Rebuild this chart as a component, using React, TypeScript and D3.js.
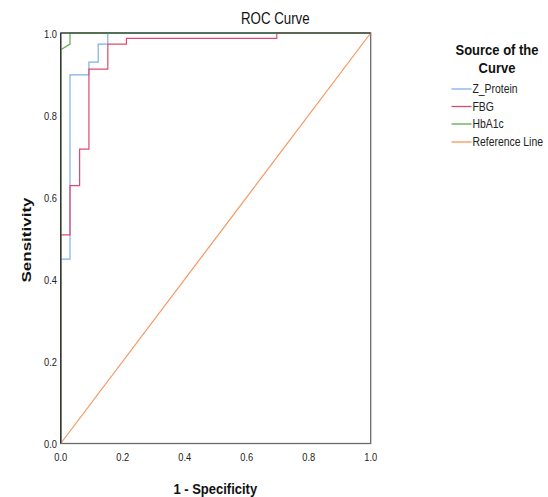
import React from "react";
import * as d3 from "d3";

const W = 548;
const H = 497;

const xTicks = [0, 0.2, 0.4, 0.6, 0.8, 1.0];
const yTicks = [0, 0.2, 0.4, 0.6, 0.8, 1.0];

// ROC curve points [1 - specificity, sensitivity]
const zProteinX = [0, 0, 0.03, 0.03, 0.091, 0.091, 0.121, 0.121, 0.152, 0.152, 1];
const zProteinY = [0, 0.449, 0.449, 0.898, 0.898, 0.929, 0.929, 0.973, 0.973, 1, 1];

const fbgX = [0, 0, 0.03, 0.03, 0.061, 0.061, 0.091, 0.091, 0.152, 0.152, 0.212, 0.212, 0.697, 0.697, 1];
const fbgY = [0, 0.508, 0.508, 0.628, 0.628, 0.717, 0.717, 0.912, 0.912, 0.973, 0.973, 0.987, 0.987, 1, 1];

const hba1cX = [0, 0, 0.03, 0.03, 1];
const hba1cY = [0, 0.959, 0.973, 1, 1];

const refX = [0, 1];
const refY = [0, 1];

const seriesNames = ["Z_Protein", "FBG", "HbA1c", "Reference Line"];
const seriesColors = ["#7FAEEB", "#E2486F", "#5CAA50", "#F7955E"];

const FONT = "'Liberation Sans', Arial, sans-serif";
const SY = 1.18; // vertical stretch of text

export default function App() {
  const x = d3.scaleLinear().domain([0, 1]).range([60.7, 370.7]);
  const y = d3.scaleLinear().domain([0, 1]).range([443.5, 33]);

  const line = d3
    .line<[number, number]>()
    .x((d) => x(d[0]))
    .y((d) => y(d[1]));

  const zip = (xs: number[], ys: number[]) =>
    xs.map((v, i) => [v, ys[i]] as [number, number]);

  const series = [
    zip(zProteinX, zProteinY),
    zip(fbgX, fbgY),
    zip(hba1cX, hba1cY),
    zip(refX, refY),
  ];

  const stretchText = (
    tx: number,
    ty: number,
    content: string,
    props: any,
    sy = SY
  ) => (
    <text
      transform={`translate(${tx},${ty}) scale(1,${sy})`}
      fontFamily={FONT}
      fill="#222"
      {...props}
    >
      {content}
    </text>
  );

  const legendYs = [93, 110.5, 128, 146];

  return (
    <svg
      width={W}
      height={H}
      style={{ position: "absolute", left: 0, top: 0, background: "#fff" }}
    >
      <rect x={0} y={0} width={W} height={H} fill="#fff" />

      {/* frame */}
      <rect
        x={x(0)}
        y={y(1)}
        width={x(1) - x(0)}
        height={y(0) - y(1)}
        fill="none"
        stroke="#6a6a6a"
        strokeWidth={1.3}
      />

      {/* curves: reference first then others */}
      <path d={line(series[3]) || ""} fill="none" stroke={seriesColors[3]} strokeWidth={1.2} />
      <path d={line(series[0]) || ""} fill="none" stroke={seriesColors[0]} strokeWidth={1.2} />
      <path d={line(series[1]) || ""} fill="none" stroke={seriesColors[1]} strokeWidth={1.2} />
      <path d={line(series[2]) || ""} fill="none" stroke={seriesColors[2]} strokeWidth={1.2} />
      <line x1={x(0)} x2={x(0)} y1={y(0)} y2={y(1)} stroke="#333" strokeWidth={1.3} />
      <line x1={x(0)} x2={x(1)} y1={y(1)} y2={y(1)} stroke="#2f3f33" strokeWidth={1.2} />

      {/* y tick labels */}
      {yTicks.map((t) =>
        stretchText(57, y(t) + 4.6, d3.format(".1f")(t), {
          key: "y" + t,
          fontSize: 9.3,
          textAnchor: "end",
        })
      )}
      {/* x tick labels */}
      {xTicks.map((t) =>
        stretchText(x(t), 460.5, d3.format(".1f")(t), {
          key: "x" + t,
          fontSize: 9.3,
          textAnchor: "middle",
        })
      )}

      {/* title */}
      {stretchText(275.3, 24, "ROC Curve", {
        fontSize: 13.3,
        textAnchor: "middle",
        fill: "#111",
      })}

      {/* axis titles */}
      {stretchText(215.3, 494, "1 - Specificity", {
        fontSize: 13,
        fontWeight: "bold",
        textAnchor: "middle",
        fill: "#111",
      })}
      <text
        transform={`translate(31,240) rotate(-90) scale(1.26,1)`}
        fontFamily={FONT}
        fontSize={13.5}
        fontWeight="bold"
        textAnchor="middle"
        fill="#111"
      >
        Sensitivity
      </text>

      {/* legend */}
      {stretchText(497, 55, "Source of the", {
        fontSize: 13,
        fontWeight: "bold",
        textAnchor: "middle",
        fill: "#111",
      })}
      {stretchText(497, 72.7, "Curve", {
        fontSize: 13,
        fontWeight: "bold",
        textAnchor: "middle",
        fill: "#111",
      })}
      {seriesNames.map((name, i) => (
        <g key={name}>
          <line
            x1={451.5}
            x2={471.5}
            y1={legendYs[i] - 4}
            y2={legendYs[i] - 4}
            stroke={seriesColors[i]}
            strokeWidth={1.3}
          />
          {stretchText(472.5, legendYs[i], name, {
            fontSize: 10.4,
            textAnchor: "start",
          })}
        </g>
      ))}
    </svg>
  );
}
